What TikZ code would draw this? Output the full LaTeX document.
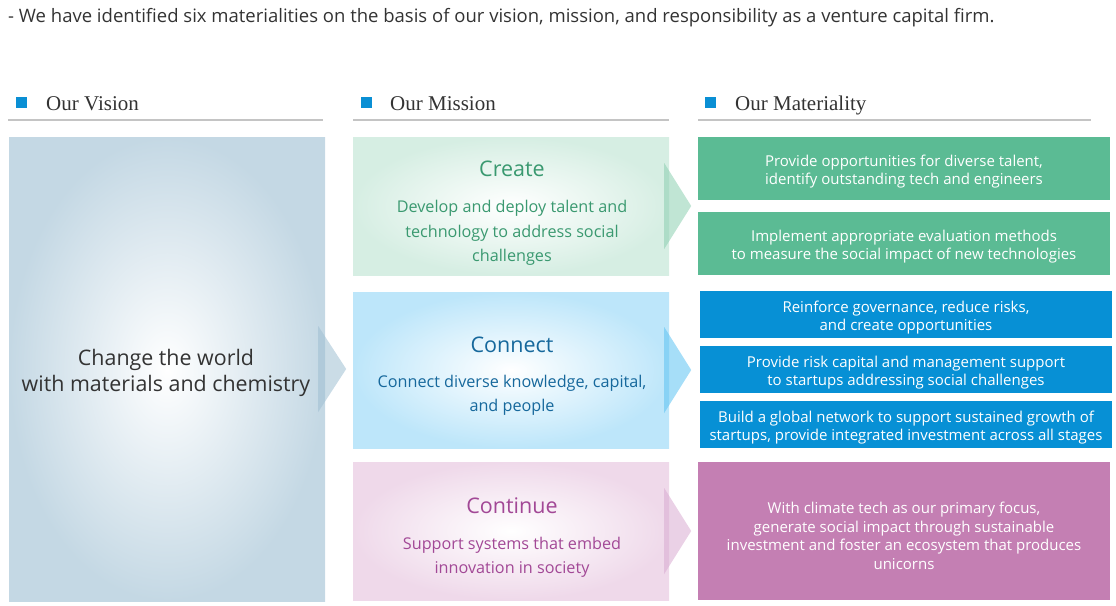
\documentclass[tikz,border=0pt]{standalone}
\usepackage{fontspec}
\setmainfont{Open Sans}
\newfontfamily\headfont{Liberation Serif}
\usetikzlibrary{calc}

\definecolor{darktext}{HTML}{333333}
\definecolor{headblue}{HTML}{0A8FD4}
\definecolor{rulegray}{HTML}{C4C4C4}
\definecolor{visionbg}{HTML}{C4D8E4}
\definecolor{createbg}{HTML}{D6EEE3}
\definecolor{connectbg}{HTML}{BDE6FA}
\definecolor{continuebg}{HTML}{EFD9EA}
\definecolor{visionarr}{HTML}{9FBFD2}
\definecolor{createarr}{HTML}{8CCFB0}
\definecolor{connectarr}{HTML}{5DC2F2}
\definecolor{continuearr}{HTML}{D9ABD1}
\definecolor{greentext}{HTML}{3A9970}
\definecolor{bluetext}{HTML}{16689C}
\definecolor{pinktext}{HTML}{A24896}
\definecolor{matgreen}{HTML}{5BBB94}
\definecolor{matblue}{HTML}{0790D5}
\definecolor{matpink}{HTML}{C47FB3}

\begin{document}
\begin{tikzpicture}[x=1pt,y=-1pt,
  headsq/.style={fill=headblue,minimum size=11pt,inner sep=0pt},
  headtxt/.style={anchor=base west,inner sep=0pt,text=darktext,font=\headfont\fontsize{21}{24}\selectfont},
  headrule/.style={draw=rulegray,line width=1.2pt},
  missionbox/.style={minimum width=316pt,inner sep=0pt,shading=radial,inner color=white},
  mtitle/.style={font=\fontsize{21.5}{24}\selectfont},
  mdesc/.style={align=center,font=\fontsize{16.2}{24.5}\selectfont},
  matbox/.style={minimum width=412pt,inner sep=0pt},
  mattxt/.style={align=center,text=white,font=\fontsize{15}{18.6}\selectfont},
  chevron/.style={fill opacity=0.55}]
\useasboundingbox (0,0) rectangle (1116,605);

\node[anchor=base west,inner sep=0pt,text=darktext,font=\fontsize{18.5}{22}\selectfont] (intro) at (8,22) {- We have identified six materialities on the basis of our vision, mission, and responsibility as a venture capital firm.};

% column heads
\node[headsq] (sqvision) at (21.5,102.5) {};
\node[headtxt] (hvision) at (46,110) {Our Vision};
\node[headsq] (sqmission) at (366.5,102.5) {};
\node[headtxt] (hmission) at (390,110) {Our Mission};
\node[headsq] (sqmat) at (710.5,102.5) {};
\node[headtxt] (hmat) at (735,110) {Our Materiality};
\coordinate (rv1) at (8,120); \coordinate (rv2) at (323,120);
\coordinate (rm1) at (353,120); \coordinate (rm2) at (669,120);
\coordinate (rr1) at (698,120); \coordinate (rr2) at (1091,120);
\draw[headrule] (rv1) -- (rv2); \draw[headrule] (rm1) -- (rm2); \draw[headrule] (rr1) -- (rr2);

% vision
\node[missionbox,minimum height=464pt,outer color=visionbg] (vision) at (167,369) {};
\node[align=center,text=darktext,font=\fontsize{21.4}{26}\selectfont] (visionT) at (166,373) {Change the world\\with materials and chemistry};

% mission
\node[missionbox,minimum height=138pt,outer color=createbg] (create) at (511,206) {};
\node[mtitle,text=greentext] (createT) at (512,169) {Create};
\node[mdesc,text=greentext] (createD) at (512,233) {Develop and deploy talent and\\technology to address social\\challenges};
\node[missionbox,minimum height=156pt,outer color=connectbg] (connect) at (511,370) {};
\node[mtitle,text=bluetext] (connectT) at (512,345) {Connect};
\node[mdesc,text=bluetext] (connectD) at (512,395.5) {Connect diverse knowledge, capital,\\and people};
\node[missionbox,minimum height=138pt,outer color=continuebg] (continue) at (511,531) {};
\node[mtitle,text=pinktext] (continueT) at (512,506) {Continue};
\node[mdesc,text=pinktext] (continueD) at (512,557.5) {Support systems that embed\\innovation in society};

% chevrons
\fill[chevron,visionarr] ($(vision.east)+(-7,-43)$) -- ($(vision.east)+(21,0)$) -- ($(vision.east)+(-7,43)$) -- cycle;
\fill[chevron,createarr] ($(create.east)+(-5,-43)$) -- ($(create.east)+(22,0)$) -- ($(create.east)+(-5,43)$) -- cycle;
\fill[chevron,connectarr] ($(connect.east)+(-5,-43)$) -- ($(connect.east)+(22,0)$) -- ($(connect.east)+(-5,43)$) -- cycle;
\fill[chevron,continuearr] ($(continue.east)+(-5,-43)$) -- ($(continue.east)+(22,0)$) -- ($(continue.east)+(-5,43)$) -- cycle;

% materiality
\node[matbox,fill=matgreen,minimum height=63pt] (m1) at (904,168.5) {};
\node[mattxt] (m1t) at ($(m1.center)+(0,3)$) {Provide opportunities for diverse talent,\\identify outstanding tech and engineers};
\node[matbox,fill=matgreen,minimum height=63pt] (m2) at (904,243.5) {};
\node[mattxt] (m2t) at ($(m2.center)+(0,3)$) {Implement appropriate evaluation methods\\to measure the social impact of new technologies};
\node[matbox,fill=matblue,minimum height=47pt] (m3) at (906,314.5) {};
\node[mattxt] (m3t) at ($(m3.center)+(0,3)$) {Reinforce governance, reduce risks,\\and create opportunities};
\node[matbox,fill=matblue,minimum height=47pt] (m4) at (906,369.5) {};
\node[mattxt] (m4t) at ($(m4.center)+(0,3)$) {Provide risk capital and management support\\to startups addressing social challenges};
\node[matbox,fill=matblue,minimum height=47pt] (m5) at (906,424.5) {};
\node[mattxt] (m5t) at ($(m5.center)+(0,3)$) {Build a global network to support sustained growth of\\startups, provide integrated investment across all stages};
\node[matbox,fill=matpink,minimum height=138pt] (m6) at (904,531) {};
\node[mattxt] (m6t) at ($(m6.center)+(0,5)$) {With climate tech as our primary focus,\\generate social impact through sustainable\\investment and foster an ecosystem that produces\\unicorns};
\end{tikzpicture}
\end{document}
